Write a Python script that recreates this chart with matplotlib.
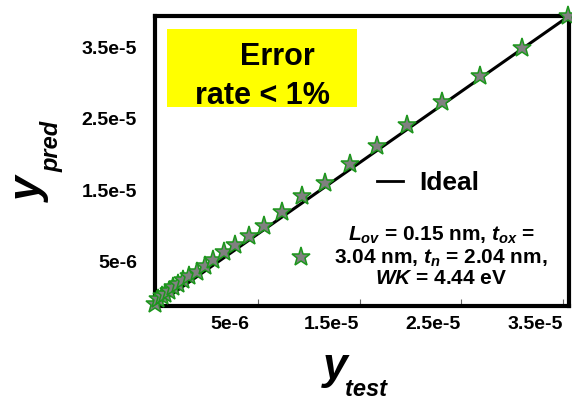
import numpy as np
import matplotlib
matplotlib.use('Agg')
import matplotlib.pyplot as plt
from matplotlib.patches import Rectangle
from matplotlib.lines import Line2D
from matplotlib.transforms import ScaledTranslation

# values, in units of 1e-6
y_test = np.array([-5.12, -4.83, -4.43, -4.14, -3.75, -3.35, -2.86, -2.37, -1.78, -0.99,
                   -0.20, 0.59, 1.67, 2.75, 4.12, 5.60, 7.36, 9.33, 11.59, 14.05,
                   16.71, 19.66, 23.10, 26.83, 30.96, 35.49]) * 1e-6
y_pred = np.array([-0.89, -0.19, 0.22, 0.50, 0.92, 1.48, 1.89, 2.45, 3.01, 3.57,
                   4.40, 5.24, 6.35, 7.33, 8.58, 9.97, 11.92, 14.15, 15.96, 18.61,
                   21.25, 24.18, 27.38, 31.00, 34.90, 39.36]) * 1e-6
ideal_x = np.array([-5.10, 35.57]) * 1e-6
ideal_y = np.array([-1.17, 39.36]) * 1e-6

tick_vals = [5e-6, 1.5e-5, 2.5e-5, 3.5e-5]
tick_labels = ['5e-6', '1.5e-5', '2.5e-5', '3.5e-5']

params_label = (r'$L_{ov}$ = 0.15 nm, $t_{ox}$ =' + '\n'
                + r'3.04 nm, $t_n$ = 2.04 nm,' + '\n'
                + r'$WK$ = 4.44 eV')


def main():
    plt.rcParams['font.family'] = ['Liberation Sans', 'DejaVu Sans']
    plt.rcParams['font.weight'] = 'bold'
    plt.rcParams['mathtext.fontset'] = 'custom'
    plt.rcParams['mathtext.it'] = 'Liberation Sans:italic:bold'
    plt.rcParams['mathtext.rm'] = 'Liberation Sans:bold'

    fig = plt.figure(figsize=(5.72, 4.01), dpi=100)
    ax = fig.add_axes([155 / 572, 1 - 306 / 401, 414 / 572, 290 / 401])

    ax.plot(ideal_x, ideal_y, color='black', lw=2.2, zorder=2)
    ax.plot(y_test, y_pred, ls='none', marker='*', ms=14, mfc='#808080',
            mec='#1c961c', mew=1.1, clip_on=False, zorder=3)

    ax.set_xlim(ideal_x)
    ax.set_ylim(ideal_y)
    for s in ax.spines.values():
        s.set_linewidth(3)

    ax.set_xticks(tick_vals)
    ax.set_xticklabels(tick_labels)
    ax.set_yticks(tick_vals)
    ax.set_yticklabels(tick_labels)
    ax.tick_params(axis='x', direction='in', length=5, width=0.8, color='#666666',
                   labelsize=14, pad=7)
    ax.tick_params(axis='y', length=0, labelsize=14, pad=13)
    shift = ScaledTranslation(-0.28, 0, fig.dpi_scale_trans)
    for lab in ax.get_xticklabels():
        lab.set_transform(lab.get_transform() + shift)

    # axis labels
    fig.text(30 / 572, 1 - 190 / 401, 'y', rotation=90, ha='center', va='center',
             fontsize=32, style='italic', weight='bold')
    fig.text(52 / 572, 1 - 146 / 401, 'pred', rotation=90, ha='center', va='center',
             fontsize=17, style='italic', weight='bold')
    fig.text(335 / 572, 1 - 368 / 401, 'y', ha='center', va='center',
             fontsize=32, style='italic', weight='bold')
    fig.text(366 / 572, 1 - 390 / 401, 'test', ha='center', va='center',
             fontsize=17, style='italic', weight='bold')

    # error rate box
    ax.add_patch(Rectangle((0.029, 0.687), 0.459, 0.268, transform=ax.transAxes,
                           facecolor='#ffff00', edgecolor='none', zorder=1))
    fig.text(277 / 572, 1 - 65 / 401, 'Error', ha='center', va='baseline', fontsize=22)
    fig.text(262 / 572, 1 - 104 / 401, 'rate < 1%', ha='center', va='baseline', fontsize=22)

    # legends
    h_ideal = Line2D([], [], color='black', lw=2)
    leg1 = ax.legend([h_ideal], ['Ideal'], loc='center left', frameon=False,
                     bbox_to_anchor=(0.536, 0.425), borderpad=0, borderaxespad=0,
                     handlelength=1.0, handletextpad=0.6, prop={'size': 19, 'weight': 'bold'})
    ax.add_artist(leg1)
    h_star = Line2D([], [], ls='none', marker='*', ms=14, mfc='#808080',
                    mec='#1c961c', mew=1.1)
    leg2 = ax.legend([h_star], [params_label], loc='center left', frameon=False,
                     bbox_to_anchor=(0.3275, 0.170), borderpad=0, borderaxespad=0,
                     handlelength=1.0, handletextpad=1.1, prop={'size': 15, 'weight': 'bold'})
    for t in leg2.get_texts():
        t.set_multialignment('center')
        t.set_linespacing(1.05)

    fig.savefig('out.png', dpi=100)


if __name__ == '__main__':
    main()
